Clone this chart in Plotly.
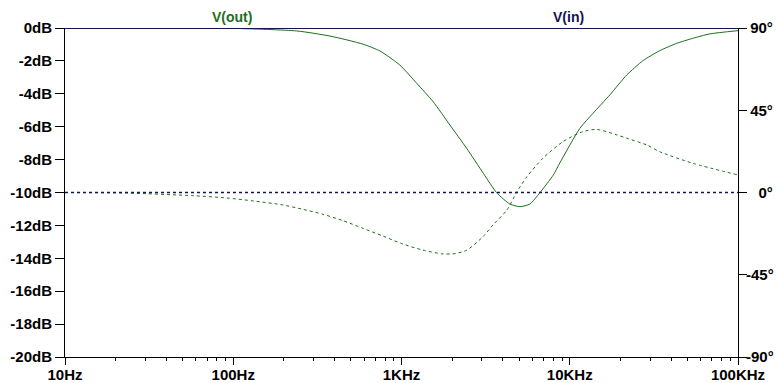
import plotly.graph_objects as go

# ---- data ----
freq_mag = [10, 50, 105, 239, 376, 590, 745, 977, 1231, 1543, 1940, 2438, 3063,
            3676, 4406, 5056, 5800, 6645, 7970, 8733, 11480, 13710, 17300, 21800,
            27200, 34260, 43240, 53800, 67900, 100000]
vout_db = [0, 0, -0.03, -0.18, -0.49, -0.98, -1.4, -2.25, -3.36, -4.48, -5.9, -7.31,
           -8.83, -10.01, -10.7, -10.86, -10.7, -10.01, -8.95, -8.2, -6.1, -5.2,
           -4.07, -2.86, -1.99, -1.38, -0.93, -0.63, -0.36, -0.16]

freq_ph = [10, 23.3, 57.6, 91.8, 131, 197, 259, 341, 449, 590, 775, 1019, 1340,
           1762, 2076, 2446, 3048, 3494, 4230, 4853, 5564, 6922, 9100, 11960,
           14500, 19060, 21840, 28710, 34300, 53800, 100000]
vout_ph = [0, -0.3, -1.75, -3.0, -4.6, -6.8, -9.2, -11.9, -15.4, -19.6, -23.8,
           -28.2, -31.5, -33.6, -33.4, -31.5, -24.2, -17.8, -9.6, 0.4, 8.6, 18.7,
           27.8, 33.3, 34.5, 31.5, 29.7, 26.0, 22.3, 16.0, 9.6]

freq_in = [10, 100000]
vin_db = [0, 0]
vin_ph = [0, 0]

x_tickvals = [10, 100, 1000, 10000, 100000]
x_ticktext = ["10Hz", "100Hz", "1KHz", "10KHz", "100KHz"]
x_minor = [m * d for d in [10, 100, 1000, 10000] for m in range(2, 10)]

db_tickvals = [0, -2, -4, -6, -8, -10, -12, -14, -16, -18, -20]
db_ticktext = [f"{v}dB" for v in db_tickvals]
ph_tickvals = [90, 45, 0, -45, -90]
ph_ticktext = ["\u00a090°", "\u00a045°", "\u00a0\u00a0\u00a00°", "-45°", "-90°"]

GREEN = "#1e6e1e"
NAVY = "#141450"
FONT = "Liberation Sans"

fig = go.Figure()
fig.add_trace(go.Scatter(x=freq_mag, y=vout_db, mode="lines",
                         line=dict(color=GREEN, width=1, shape="spline", smoothing=0.6),
                         yaxis="y", showlegend=False))
fig.add_trace(go.Scatter(x=freq_ph, y=vout_ph, mode="lines",
                         line=dict(color=GREEN, width=1, dash="3px,3px", shape="spline", smoothing=0.7),
                         yaxis="y2", showlegend=False))
fig.add_trace(go.Scatter(x=freq_in, y=vin_db, mode="lines", line=dict(color=NAVY, width=2),
                         yaxis="y", showlegend=False))
fig.add_trace(go.Scatter(x=freq_in, y=vin_ph, mode="lines", line=dict(color=NAVY, width=1.4, dash="3px,3px"),
                         yaxis="y2", showlegend=False))

tickfont = dict(family=FONT, size=15, color="black", weight="bold")

fig.update_layout(
    width=776, height=383,
    margin=dict(l=65, r=38, t=28, b=26, pad=0),
    paper_bgcolor="white", plot_bgcolor="white",
    xaxis=dict(type="log", range=[1, 5], tickmode="array", tickvals=x_tickvals, ticktext=x_ticktext,
               ticks="outside", ticklen=7, tickcolor="black", tickwidth=1, automargin=False,
               ticklabelstandoff=-3,
               showline=True, linecolor="black", linewidth=1, showgrid=False, zeroline=False,
               tickfont=tickfont,
               minor=dict(tickmode="array", tickvals=x_minor, ticks="outside", ticklen=3,
                          tickcolor="black", tickwidth=1, showgrid=False)),
    yaxis=dict(range=[-20, 0], tickmode="array", tickvals=db_tickvals, ticktext=db_ticktext,
               ticks="outside", ticklen=9, tickcolor="black", tickwidth=1, automargin=False,
               showline=True, linecolor="black", linewidth=1, showgrid=False, zeroline=False,
               tickfont=tickfont),
    yaxis2=dict(range=[-90, 90], overlaying="y", side="right", tickmode="array",
                tickvals=ph_tickvals, ticktext=ph_ticktext, automargin=False,
                ticks="outside", ticklen=8, tickcolor="black", tickwidth=1,
                ticklabelstandoff=-4,
                showline=True, linecolor="black", linewidth=1, showgrid=False, zeroline=False,
                tickfont=tickfont),
    annotations=[
        dict(text="V(out)", xref="paper", yref="paper", x=(232 - 65) / 673, y=1, yanchor="bottom",
             xanchor="center", showarrow=False, yshift=1,
             font=dict(family=FONT, size=14, color=GREEN, weight="bold")),
        dict(text="V(in)", xref="paper", yref="paper", x=(568 - 65) / 673, y=1, yanchor="bottom",
             xanchor="center", showarrow=False, yshift=1,
             font=dict(family=FONT, size=14, color=NAVY, weight="bold")),
    ],
)

fig.write_html("out.html", config={"displayModeBar": False},
               post_script="document.body.style.margin='0';document.body.style.overflow='hidden';")
